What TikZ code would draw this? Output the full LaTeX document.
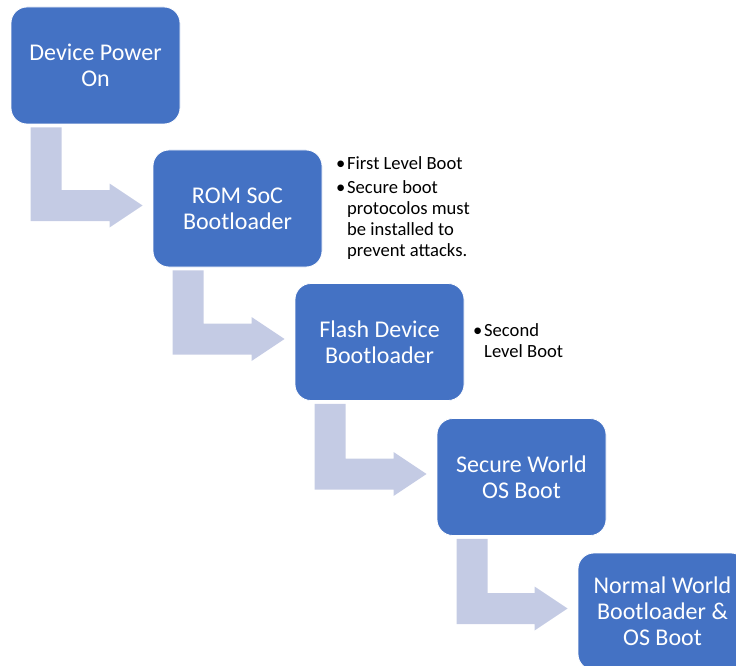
\documentclass[tikz,border=0pt]{standalone}
\usepackage{fontspec}
\setmainfont{Carlito}
\usetikzlibrary{calc}

\definecolor{boxblue}{RGB}{68,114,196}
\definecolor{arrowgray}{RGB}{196,203,228}

\tikzset{
  stepbox/.style={fill=boxblue,draw=white,line width=0.8pt,rounded corners=16pt,
    minimum width=169pt,minimum height=117pt,inner sep=0pt,text=white,align=center,
    font=\fontsize{24}{26}\selectfont},
  notes/.style={anchor=base west,inner sep=0pt,text width=135pt,align=flush left,
    font=\fontsize{18.6}{21}\selectfont}
}

% bent arrow from the bottom of one step to the left side of the next
\newcommand{\bentarrow}[2]{%
  \fill[arrowgray] let \p1=(#1.south west), \p2=(#2.west) in
    (\x1+20pt,\y1-3pt) -- (\x1+51pt,\y1-3pt) -- (\x1+51pt,\y2+18.5pt)
    -- (\x2-43pt,\y2+18.5pt) -- (\x2-43pt,\y2+25pt) -- (\x2-10pt,\y2+3pt)
    -- (\x2-43pt,\y2-19pt) -- (\x2-43pt,\y2-12.5pt) -- (\x1+20pt,\y2-12.5pt) -- cycle;}
\newcommand{\bitem}{\hangindent=11pt\hangafter=1\makebox[11pt][l]{\textbullet}}

\begin{document}
\begin{tikzpicture}[x=1pt,y=1pt]
\useasboundingbox (0,0) rectangle (736,-666);

\node[stepbox] (power) at (95.5,-65.5) {Device Power\\On};
\node[stepbox] (rom) at (237.5,-208.5) {ROM SoC\\Bootloader};
\node[stepbox] (flash) at (379.5,-342) {Flash Device\\Bootloader};
\node[stepbox] (secure) at (521.5,-477) {Secure World\\OS Boot};
\node[stepbox] (normal) at (662.5,-611.5) {Normal World\\Bootloader \&\\OS Boot};

\bentarrow{power}{rom}
\bentarrow{rom}{flash}
\bentarrow{flash}{secure}
\bentarrow{secure}{normal}

\node[notes] (romnotes) at (336,-169) {\setlength{\parskip}{3pt}%
  \bitem First Level Boot\par
  \bitem Secure boot\newline protocolos must\newline be installed to\newline prevent attacks.\par};
\node[notes] (flashnotes) at (473,-336) {%
  \bitem Second\newline Level Boot\par};
\end{tikzpicture}
\end{document}
